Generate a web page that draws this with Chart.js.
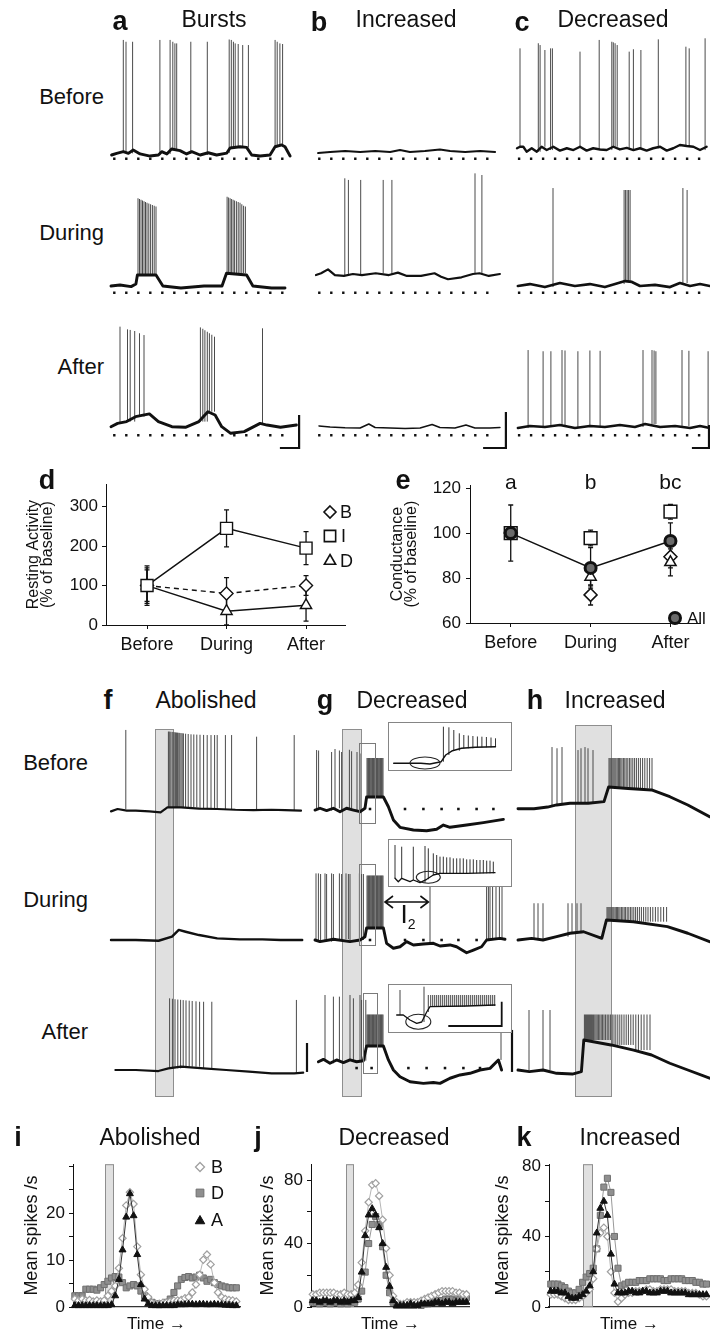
<!DOCTYPE html>
<html><head><meta charset="utf-8"><title>Figure</title>
<script src="https://cdn.jsdelivr.net/npm/chart.js@4/dist/chart.umd.min.js"></script>
<style>
html,body{margin:0;padding:0;background:#fff;}
body{position:relative;width:710px;height:1337px;overflow:hidden;font-family:"Liberation Sans",Arial,Helvetica,sans-serif;color:#111;}
canvas{position:absolute;}
.t{position:absolute;white-space:nowrap;line-height:1;color:#111;}
</style></head><body>
<script>
// ================= DATA =================
// --- panels a-c : membrane traces (t in s, v in mV) ---
const aBeforeBase = [[0.2,-60],[1.9,-58.9],[4.1,-57.8],[5.8,-58.9],[7.4,-56.7],[9.7,-59.3],[13,-60.7],[15.8,-60],[16.9,-57.8],[18.6,-59.3],[20.2,-56],[23,-57.1],[25.2,-59.3],[26.9,-57.8],[29.7,-60],[32.4,-58.5],[35.2,-60],[38.6,-58.7],[39.7,-55.3],[43,-54.5],[45.2,-54.9],[46.9,-60],[49.7,-60.7],[53,-60],[54.7,-54.5],[56.9,-53.3],[58,-54.5],[59.7,-60.7]];
const aBeforeSpikes = [[4.1,16.7],[5.0,15.5],[7.2,15.5],[16.3,16.7],[19.7,16.7],[20.6,15.5],[21.3,14.4],[21.9,14.4],[26.6,15.5],[32.1,15.5],[39.4,17],[40.1,16.7],[40.8,15.5],[41.4,14.4],[42.4,14],[43.9,13.3],[45.8,13.3],[54.7,16.7],[55.4,15.5],[56.3,14.4],[57.2,14]];
const aDuringBase = [[0,-60],[3,-59.3],[6.7,-60.4],[8.3,-58.7],[8.8,-52.7],[15,-52.7],[17.3,-60],[23.3,-61.3],[31,-60],[37,-60],[38.5,-51.5],[45.2,-52.7],[47.3,-60],[53.5,-61.3],[58,-61.3]];
const aDuringSpikes = [[9,-1.5],[9.5,-2],[10,-2.5],[10.5,-3],[11,-3.5],[11.5,-4],[12,-4.5],[12.6,-5],[13.2,-5.5],[13.8,-6],[14.4,-6.5],[15,-7],[38.7,-0.5],[39.2,-1],[39.7,-1.5],[40.2,-2],[40.7,-2.5],[41.2,-3],[41.8,-3.5],[42.4,-4],[43,-4.5],[43.6,-5.5],[44.2,-6.5],[44.8,-7]];
const aAfterBase = [[0,-59.8],[2.2,-57.6],[5.2,-56.4],[8.2,-53.1],[12.8,-51.3],[15.8,-56.4],[20.3,-59.8],[24.8,-60.2],[29.3,-56.4],[32.3,-49.8],[34.7,-52],[36.9,-59.8],[39.9,-64.2],[44.4,-63.1],[49.7,-57.6],[52,-58.7],[56.5,-60.2],[61.8,-58.7]];
const aAfterSpikes = [[3,6.9],[5.5,5.1],[6.4,4.7],[7.9,4],[9.5,2.5],[11,1.3],[29.8,6.4],[30.6,5.5],[31.3,4.5],[32.1,3.5],[32.8,2.5],[33.6,1.5],[34.5,0.2],[50.5,5.8]];
const bBeforeBase = [[0.7,-58.7],[4.7,-58],[9.7,-57.3],[14.7,-58],[19.7,-57.3],[24.7,-58],[28,-56.7],[31.3,-58],[36.3,-57.3],[41.3,-56.3],[44.7,-57.3],[49.7,-58],[54.7,-57.3],[59.7,-58]];
const bDuringBase = [[0,-52.7],[1.7,-51.5],[4,-48.9],[6.3,-52.7],[9.3,-53.3],[12.3,-52],[15.3,-52.7],[19.9,-51.5],[24.3,-52.7],[27.3,-51.1],[30.3,-53.3],[35,-53.3],[39.5,-51.5],[41.7,-53.8],[44,-55.5],[48.5,-54.2],[52.3,-52],[54.5,-51.5],[57.6,-53.3],[61.3,-52]];
const bDuringSpikes = [[9.6,11.8],[10.8,10.7],[14.9,10.7],[22.4,10.7],[25.3,10.7],[53,15.1],[55.3,14]];
const bAfterBase = [[1,-59.3],[4.7,-60],[9.7,-60.5],[14.7,-60.7],[17.6,-58],[19.7,-60.3],[24.7,-60.7],[29.7,-61],[34.7,-60.7],[38.7,-58.3],[41.3,-60.3],[46.3,-60.7],[50,-58.7],[53,-60.7],[58,-60.7],[61.3,-60.3]];
const cBeforeBase = [[0,-55.5],[1,-54.5],[2.1,-54.5],[3.2,-57.8],[4.9,-55.5],[6.6,-57.8],[8.2,-54.5],[9.9,-56.7],[12.1,-54.5],[14.3,-57.1],[16.6,-55.5],[18.8,-56.7],[21,-54.5],[23.2,-57.1],[25.4,-55.5],[27.7,-56.3],[29.9,-56.7],[32.1,-54.5],[34.3,-56.3],[36.6,-55.3],[38.8,-56.7],[41,-55.5],[43.2,-57.1],[45.4,-55.5],[47.7,-54.5],[49.9,-57.1],[52.1,-55.5],[54.3,-53.3],[56.6,-54],[58.8,-54.5],[61,-56.7],[63.2,-54.5]];
const cBeforeSpikes = [[1,11.1],[7.1,14.5],[7.7,13.3],[9.3,10],[11.2,11.1],[11.8,11.1],[21,8.9],[27.4,16.7],[31.6,15.5],[32.1,15.1],[32.7,14.5],[33.4,13.3],[37.4,8.9],[38.8,10.5],[41.3,10],[47.1,17.1],[56.3,12.2],[57.4,11.1],[62.7,17.8]];
const cDuringBase = [[0.3,-60],[4.3,-58.7],[9.3,-60.7],[14.3,-58],[19.3,-60],[24.3,-58.7],[29.3,-60.7],[32.7,-58.7],[36,-56.7],[38.3,-57.3],[41,-60],[46,-59.3],[51,-60.7],[54.3,-58],[57.7,-60],[61,-58.7],[64.3,-60]];
const cDuringSpikes = [[12,5.3],[35.7,4],[36.2,4],[36.7,4],[37.2,4],[37.7,4],[55.3,5.3],[56.7,4]];
const cAfterBase = [[0.3,-60.7],[4.3,-59.3],[9.3,-60],[14.3,-58.7],[19.3,-60.7],[24.3,-59.3],[29.3,-60],[34.3,-58.7],[39.3,-60],[42.7,-58],[47.7,-60],[52.7,-59.3],[57.7,-60.7],[61,-59.3],[64.3,-60.7]];
const cAfterSpikes = [[3.7,-8.7],[8.7,-9.5],[11.3,-9.5],[15,-8.7],[16,-9],[20.3,-9.5],[24.3,-9],[27.7,-9.2],[42,-8.7],[45,-8.7],[45.7,-9],[46.3,-9.5],[55,-8.7],[57.3,-9.2],[63.7,-9.5]];
// scale bars: [t of vertical, v bottom, v top, t start of horizontal]
const aScaleBar = [62.7,-74,-52,56.3];
const bScaleBar = [63.3,-74,-50,55.7];
const cScaleBar = [64,-74,-58.7,58.3];

// --- panels f-h : traces with stimulation (t in s, v in mV) ---
const fBeforeBase = [[0,-59.6],[3.3,-58],[7.9,-59.1],[12.4,-59.1],[19.2,-59.6],[24.8,-60.2],[28.2,-56.9],[35,-56.9],[44,-57.8],[53.1,-58],[62.2,-58.5],[71.2,-58.7],[80.3,-58.5],[87,-58.7],[95,-59.1]];
const fBeforeSpikes = [[7.4,-5.3],[28.7,-6.4],[29.1,-6.4],[29.6,-6.5],[30.5,-6.6],[31,-6.7],[31.6,-6.8],[32.2,-6.9],[32.8,-7],[33.3,-7.1],[33.9,-7.2],[34.4,-7.3],[35,-7.4],[35.6,-7.5],[36.2,-7.6],[37.3,-7.8],[38.6,-8],[40,-8.2],[41.4,-8.3],[42.9,-8.4],[44.5,-8.5],[46.3,-8.6],[48.1,-8.7],[50,-8.7],[51.8,-8.7],[53.1,-8.7],[57.2,-8.7],[60.3,-8.7],[72.8,-9.8],[91.6,-8.7]];
const fDuringBase = [[0,-60],[12.4,-60],[23.8,-60.5],[30.5,-57.8],[33.9,-53.3],[37.3,-54.5],[44,-56.7],[53.1,-58.9],[64.4,-59.6],[75.7,-59.6],[84.8,-60],[95.6,-60]];
const fAfterBase = [[2.2,-60],[12.4,-60],[23.7,-60.7],[28.7,-58.9],[35,-57.8],[46.3,-58.9],[57.6,-60],[69,-61.1],[80.3,-62.2],[91.6,-62.2],[96.1,-61.8]];
const fAfterSpikes = [[29.3,-12.2],[30.7,-12.5],[32,-12.8],[33.4,-13],[34.8,-13.2],[36.1,-13.4],[37.5,-13.6],[39.1,-13.8],[40.6,-14],[42.5,-14.2],[44.3,-14.5],[46.3,-14.5],[50.4,-14.5],[92.7,-13.3]];
const fScaleBar = [98,-61.3,-42,null];

const gBeforeBase = [[0,-58.7],[2.5,-57.5],[5.8,-59.1],[9.2,-57.5],[12.5,-59.8],[15.8,-57.5],[19.2,-58.7],[22.5,-59.8],[25,-57.5],[25.8,-50],[34.2,-50],[36.7,-56.5],[39.2,-65.3],[42.5,-70.2],[49.2,-72],[55.8,-72.5],[60.8,-71.5],[64.2,-68.7],[67.5,-70.2],[75.8,-68.7],[84.2,-67.1],[94.2,-64.9]];
const gBeforeSpikes = [[0.8,-18.7],[1.8,-19],[8.3,-20],[10,-18],[12.2,-19],[13.3,-20],[17.2,-18.5],[18.3,-19.5],[21,-20],[22.5,-21]];
const gBurstTimes = [26,26.4,26.8,27.2,27.6,28,28.4,28.8,29.2,29.6,30,30.4,30.8,31.2,31.6,32,32.4,32.8,33.2,33.6,34];
const gBeforeBurstTop = -24;
const gBeforeDots = [27.5,45,54.2,63.3,71.7,80.8,89.2];
const gDuringBase = [[0,-60],[2.5,-61.1],[9.2,-59.5],[17.5,-61.1],[22.5,-60],[25,-57.8],[25.8,-52],[34.2,-52],[35.8,-62.2],[39.2,-65.5],[42.5,-64.5],[45.8,-61.1],[49.2,-63.3],[54.2,-62.7],[59.2,-62.2],[62.5,-64],[67.5,-63.3],[70.8,-64.5],[75.8,-68.5],[79.2,-66.7],[83.3,-64.5],[85.8,-60],[92.5,-58.9],[95,-59.5]];
const gDuringSpikes = [[0.5,-15.6],[1.7,-15.6],[2.8,-16],[5,-15.6],[5.8,-16],[8.3,-15.6],[9.2,-16],[12.2,-15.6],[13.3,-16],[15.5,-15.6],[16.7,-16],[17.5,-16],[22.2,-15.6],[23.3,-16],[24.2,-16],[57.5,-24.4],[85.8,-24.4],[86.7,-24.4],[87.5,-24.4],[88.8,-24.4],[90.5,-24.4],[92.2,-24.4],[93.5,-24.4]];
const gDuringBurstTop = -17;
const gDuringDots = [27.5,45,54.2,63.3,71.7,80.8];
const gAfterBase = [[1.7,-54.5],[4.2,-52.9],[7.5,-55.5],[10.8,-53.3],[14.2,-55.1],[17.5,-53.3],[20.8,-54.5],[24.2,-53.8],[25.8,-44],[34.2,-44],[36.7,-53.3],[39.2,-60],[42.5,-64.5],[47.5,-67.8],[54.2,-68.9],[59.2,-68.3],[62.5,-68.9],[67.5,-65.5],[72.5,-63.3],[77.5,-62.2],[82.5,-60],[87.5,-58.9],[91.7,-53.3],[93.3,-60]];
const gAfterSpikes = [[5,-10],[9.2,-11.1],[12.2,-11.1],[17.5,-10],[19.2,-12.2],[22.5,-10],[23.3,-13.3],[25.4,-13.3],[93,-33.3]];
const gAfterBurstTop = -23;
const gAfterDots = [20.8,28.3,46.7,55.8,65,74.2,82.5];
const gScaleBar = [98.5,-61.3,-33.3,null];

const hBeforeBase = [[0,-57.8],[8,-57.8],[14.8,-56.7],[19.3,-55.3],[26,-54.2],[35.1,-54.2],[43,-53.1],[45.3,-43.3],[55,-44.3],[66.8,-45.3],[75.9,-49.8],[84.9,-55.3],[95.8,-63.1]];
const hBeforeSpikes = [[17,-16.7],[19.5,-17.5],[22,-16.7],[30,-18.7],[31.5,-17.5],[33.5,-16.7],[35,-17.5],[37.5,-18.7]];
const hBeforeBurstTimes = [45.5,46,46.5,47,47.5,48,48.5,49,49.6,50.2,50.8,51.4,52,52.7,53.4,54.1,54.9,55.7,56.5,57.4,58.3,59.2,60.2,61.2,62.3,63.4,64.6,65.8,67];
const hBeforeBurstTop = -24;
const hDuringBase = [[0,-60],[6.8,-58.9],[12.5,-60],[19.3,-57.8],[26,-55.5],[32.8,-54.5],[41.9,-58.9],[44.2,-46.7],[57.7,-47.8],[74.7,-51.1],[84.9,-55.5],[95.8,-61.1]];
const hDuringSpikes = [[8,-35.5],[10,-35.5],[12.5,-35.5],[25,-35.5],[27,-35.5],[29.5,-35.5],[31.5,-35.5]];
const hDuringBurstTimes = [44.5,45,45.5,46,46.5,47,47.5,48,48.6,49.2,49.8,50.4,51,51.7,52.4,53.1,53.8,54.6,55.4,56.2,57,57.9,58.8,59.7,60.7,61.7,62.8,63.9,65,66.2,67.4,68.7,70,71.4,72.8,74.3];
const hDuringBurstTop = -38;
const hAfterBase = [[0,-60],[5.7,-61.1],[12.5,-60],[19.3,-62.2],[27.2,-62.7],[31.7,-61.1],[32.9,-40],[46.5,-43.3],[57.8,-46.7],[66.8,-50],[75.9,-55.5],[84.9,-60],[95.8,-65.5]];
const hAfterSpikes = [[5.5,-20],[12.5,-20],[16,-20]];
const hAfterBurstTimes = [33.2,33.7,34.2,34.7,35.2,35.7,36.2,36.7,37.2,37.8,38.4,39,39.6,40.2,40.9,41.6,42.3,43,43.8,44.6,45.4,46.2,47.1,48,48.9,49.9,50.9,51.9,53,54.1,55.2,56.4,57.6,58.9,60.2,61.6,63,64.5,66];
const hAfterBurstTop = -23;
// stimulation windows (s)
const fStim = [22,31.5], gStim = [13.5,23.5], hStim = [28.5,47];

// --- g insets (t in ms, v in mV) ---
const insBeforeBase = [[4.7,-60.6],[31.8,-60.6],[40.9,-62],[52.2,-57.4],[56.7,-44],[63.5,-35.4],[72.5,-30.6],[86.1,-28.6],[106.5,-27.4]];
const insBeforeSpikes = [[54.4,12.6],[59.9,11.4],[64.8,6],[70.3,-0.6],[74.8,-4],[79.3,-5],[83.9,-6],[88.4,-7],[92.9,-7.4],[97.4,-8],[102,-9],[106.5,-10.6]];
const insDuringBase = [[6,-56.6],[9.3,-63.4],[12.7,-56.6],[21,-63.4],[24.3,-60],[31,-65.4],[37.7,-58.6],[44.3,-50],[51,-46.6],[77.7,-46.6],[106,-45.4]];
const insDuringSpikes = [[6,10],[12.7,6.6],[24.3,6.6],[36,8],[39.3,3.3],[44.3,-6.7],[47.7,-10],[51,-13.3],[54.3,-13.3],[57.7,-14.7],[61,-14.7],[64.3,-16.7],[67.7,-16.7],[71,-16.7],[74.3,-16.7],[77.7,-18.7],[81,-18.7],[84.3,-18.7],[87.7,-20],[91,-20],[94.3,-20],[97.7,-21.3],[101,-21.3],[104.3,-23.3]];
const insAfterBase = [[7.7,-60],[14.3,-60],[21,-70],[27.7,-76.6],[32.7,-74],[37.7,-54],[41,-43.4],[77.7,-42],[106,-40]];
const insAfterSpikes = [[11,-10],[35,-3.4]];
const insAfterTrainTimes = [39.3,41.7,43.7,45.7,47.7,49.7,51.7,53.7,55.7,57.7,59.7,61.7,63.7,65.7,67.7,69.7,71.7,73.7,75.7,77.7,79.7,81.7,83.7,85.7,87.7,89.7,91.7,93.7,95.7,97.7,99.7,101.7,103.7,105.7];
const insAfterTrainTop = -20;
const insAfterScaleBar = [112.7,-82,-33.4,59.3];

// --- panel d ---
const dCats = ['Before','During','After'];
const dB = [100,80,100], dBerr = [45,40,25];
const dI = [100,245,195], dIerr = [40,47,42];
const dD = [100,35,50], dDerr = [50,35,40];
// --- panel e ---
const eAll = [100,84.5,96.5], eAllErr = [12.5,9,8];
const eI = [100,97.8,109.5], eIerr = [0,3.5,3.3];
const eB = [100,72.5,89.5], eBerr = [0,4.5,5];
const eD = [100,80.5,87], eDerr = [0,4,6];
const eLetters = ['a','b','bc'];
// --- panels i-k : mean spikes /s per time bin ---
const iB = [1.7,1.4,1.7,1.4,1.5,1.2,1.4,1.2,1.4,2.4,3.4,4.5,8.3,14.7,21.7,24.5,22,12.9,6.9,3.8,2.1,0.9,0.7,0.7,0.9,1,1.2,1.4,1.4,1.5,1.9,2.1,3.1,4.8,6.9,10.1,11.2,9.1,5.2,3.1,2.1,1.7,1.5,1.4,1.2];
const iD = [2.4,2.4,2.4,3.8,3.8,3.8,3.6,4.1,4.8,5.5,6.2,6.5,6.4,5.2,4.1,4.5,4.8,4.5,3.4,2.4,1.7,1,0.7,0.5,0.7,1,1.7,3.1,4.5,5.9,6.3,6.5,6.2,6.4,6.8,6.2,5.5,5.9,5.2,4.8,4.5,4.3,4.1,4.1,4.1];
const iA = [0.3,0.3,0.3,0.3,0.3,0.3,0.3,0.3,0.3,0.3,0.5,2.4,5.9,12.2,19.2,24.2,19.5,11.2,4.8,1.7,0.7,0.3,0.3,0.3,0.3,0.3,0.3,0.3,0.5,0.5,0.5,0.6,0.6,0.5,0.6,0.6,0.5,0.5,0.6,0.5,0.5,0.4,0.4,0.3,0.3];
const jB = [8,8,9,9,9,9,9,8,8,9,8,8,9,14,28,48,66,77,78,70,55,37,20,7,3,2,2,3,3,3,3,4,5,6,7,8,9,10,10,10,10,9,9,8,8];
const jA = [4,4,3,4,4,3,4,4,3,4,3,4,4,6,22,45,58,62,58,50,40,25,13,4,1,1,1,1,2,1,1,2,2,2,2,3,3,2,3,3,2,3,3,3,3];
const jD = [3,3,2,3,3,2,3,3,2,3,2,3,3,5,10,22,40,52,57,52,38,20,9,3,1,1,1,1,1,1,2,1,2,2,3,3,4,4,5,5,5,4,5,5,6];
const kD = [13,13,13,12,11,9,8,8,10,14,17,19,22,33,52,68,73,65,40,22,12,13,14,14,14,15,15,15,16,16,16,16,15,15,16,16,16,16,15,15,15,14,14,13,13];
const kA = [9,9,9,8,8,6,5,5,6,7,9,12,20,42,56,60,52,30,13,8,8,8,9,9,8,8,9,9,8,8,8,9,9,9,8,8,8,8,8,7,7,7,7,7,7];
const kB = [7,7,7,6,5,4,4,4,5,6,8,10,16,33,42,45,40,20,8,3,5,7,8,8,9,9,9,10,10,9,9,10,10,10,10,9,9,9,9,8,8,8,7,6,6];
const iStim = [8.2,10.6], jStim = [9.4,11.9], kStim = [9.2,11.9];

// ================= DRAWING =================
const FONT = '"Liberation Sans", Arial, Helvetica, sans-serif';
Chart.defaults.font.family = FONT;
Chart.defaults.color = '#111';

function mkCanvas(l, t, w, h, bg) {
  const c = document.createElement('canvas');
  c.width = w; c.height = h;
  c.style.left = l + 'px'; c.style.top = t + 'px';
  c.style.width = w + 'px'; c.style.height = h + 'px';
  if (bg) c.style.background = bg;
  document.body.appendChild(c);
  return c;
}
function label(html, x, y, size, opt) {
  opt = opt || {};
  const d = document.createElement('div');
  d.className = 't';
  d.innerHTML = html;
  d.style.left = x + 'px'; d.style.top = y + 'px';
  d.style.fontSize = size + 'px';
  if (opt.bold) d.style.fontWeight = 'bold';
  const ax = opt.align === 'right' ? '-100%' : (opt.align === 'left' ? '0' : '-50%');
  d.style.transform = 'translate(' + ax + ',-50%)';
  document.body.appendChild(d);
}
function baseAt(base, t) {
  let v = base[0][1];
  for (const p of base) { if (p[0] <= t) v = p[1]; else break; }
  return v;
}
function burst(times, top) { return times.map(t => [t, top]); }
function lineSet(data, color, w) {
  return {data: data, borderColor: color, borderWidth: w, pointRadius: 0, tension: 0, fill: false};
}
const baseOpts = () => ({
  animation: false, responsive: false, devicePixelRatio: 1, events: [],
  layout: {padding: 0, autoPadding: false},
  plugins: {legend: {display: false}, tooltip: {enabled: false}}
});

function traceChart(o) {
  const k = o.k || 1.5;
  const cv = mkCanvas(o.left, o.top, o.width, o.height, o.bg);
  const yMax = 0, yMin = -o.height / k;
  const tMin = (o.left - o.x0) / o.pxPerT, tMax = (o.left + o.width - o.x0) / o.pxPerT;
  const offs = o.rows.map(r => yMax + 60 - (r.yb - o.top) / k);
  const topSets = [], midSets = [], lowSets = [];
  o.rows.forEach((r, i) => {
    const off = offs[i];
    topSets.push(Object.assign(lineSet(r.base.map(p => ({x: p[0], y: p[1] + off})), '#111', r.bw || 2.4), {borderJoinStyle: 'round', borderCapStyle: 'round'}));
    if (r.spikes && r.spikes.length) {
      const d = [];
      r.spikes.slice().sort((a, b) => a[0] - b[0]).forEach(s => {
        const b = baseAt(r.base, s[0]);
        d.push({x: s[0], y: b + off}, {x: s[0], y: s[1] + off}, {x: s[0], y: null});
      });
      lowSets.push(Object.assign(lineSet(d, r.sc || '#4a4a4a', r.sw || 1), {spanGaps: false}));
    }
    if (r.dotLine) midSets.push(Object.assign(lineSet([{x: r.dotLine[0], y: r.dotLine[2] + off}, {x: r.dotLine[1], y: r.dotLine[2] + off}], '#111', 2.4), {borderDash: [2.4, 9.6], borderCapStyle: 'butt'}));
    if (r.dots) midSets.push({data: r.dots.map(t => ({x: t, y: r.dotV + off})), showLine: false, pointStyle: 'rect', pointRadius: 1.8, pointBackgroundColor: '#111', pointBorderColor: '#111', pointBorderWidth: 0});
    if (r.bar) {
      const b = r.bar, pts = [];
      if (b[3] !== null && b[3] !== undefined) pts.push({x: b[3], y: b[1] + off});
      pts.push({x: b[0], y: b[1] + off}, {x: b[0], y: b[2] + off});
      midSets.push(Object.assign(lineSet(pts, '#111', o.barW || 2.2), {borderCapStyle: 'butt', borderJoinStyle: 'miter'}));
    }
  });
  const ext = {
    id: 'ext',
    beforeDatasetsDraw(ch) {
      const ctx = ch.ctx, x = ch.scales.x;
      if (o.stim) {
        const xa = Math.round(x.getPixelForValue(o.stim[0])), xb = Math.round(x.getPixelForValue(o.stim[1]));
        const ya = o.stimTop - o.top, yb = o.stimBottom - o.top;
        ctx.save();
        ctx.fillStyle = '#e0e0e0'; ctx.fillRect(xa, ya, xb - xa, yb - ya);
        ctx.strokeStyle = '#8e8e8e'; ctx.lineWidth = 1; ctx.strokeRect(xa + 0.5, ya + 0.5, xb - xa - 1, yb - ya - 1);
        ctx.restore();
      }
    },
    afterDatasetsDraw(ch) {
      const ctx = ch.ctx, x = ch.scales.x, y = ch.scales.y;
      ctx.save();
      (o.boxes || []).forEach(b => {
        const xa = Math.round(x.getPixelForValue(b[0])), xb = Math.round(x.getPixelForValue(b[1]));
        ctx.strokeStyle = '#7a7a7a'; ctx.lineWidth = 1;
        ctx.strokeRect(xa + 0.5, b[2] - o.top + 0.5, xb - xa, b[3] - b[2]);
      });
      (o.arrows || []).forEach(a => {
        const xa = x.getPixelForValue(a[0]), xb = x.getPixelForValue(a[1]), yy = a[2] - o.top;
        ctx.beginPath();
        ctx.moveTo(xa, yy); ctx.lineTo(xb, yy);
        ctx.moveTo(xa + 8, yy - 6); ctx.lineTo(xa, yy); ctx.lineTo(xa + 8, yy + 6);
        ctx.moveTo(xb - 8, yy - 6); ctx.lineTo(xb, yy); ctx.lineTo(xb - 8, yy + 6);
        ctx.strokeStyle = '#111'; ctx.lineWidth = 1.6; ctx.stroke();
      });
      (o.ellipses || []).forEach(e => {
        const off = offs[e[0]];
        const cx = x.getPixelForValue(e[1]), cy = y.getPixelForValue(e[2] + off);
        const rx = Math.abs(x.getPixelForValue(e[1] + e[3]) - cx), ry = Math.abs(y.getPixelForValue(e[2] + off + e[4]) - cy);
        ctx.beginPath(); ctx.ellipse(cx, cy, rx, ry, 0, 0, Math.PI * 2);
        ctx.strokeStyle = '#222'; ctx.lineWidth = 1.1; ctx.stroke();
      });
      ctx.restore();
    }
  };
  const opts = baseOpts();
  opts.scales = {
    x: {type: 'linear', display: false, min: tMin, max: tMax},
    y: {type: 'linear', display: false, min: yMin, max: yMax}
  };
  new Chart(cv, {type: 'line', data: {datasets: topSets.concat(midSets, lowSets)}, options: opts, plugins: [ext]});
}

// ---- a / b / c columns ----
const ABC_TOP = 30, ABC_H = 430, ROWS_ABC = [155, 286, 427];
traceChart({left: 106, top: ABC_TOP, width: 200, height: ABC_H, x0: 111, pxPerT: 3, rows: [
  {yb: ROWS_ABC[0], base: aBeforeBase, spikes: aBeforeSpikes, dotLine: [0.7, 59.7, -62.5], bw: 2.9},
  {yb: ROWS_ABC[1], base: aDuringBase, spikes: aDuringSpikes, dotLine: [0.7, 59.7, -64.5], bw: 2.9},
  {yb: ROWS_ABC[2], base: aAfterBase, spikes: aAfterSpikes, dotLine: [0.7, 59.7, -65.5], bw: 2.9, bar: aScaleBar}
]});
traceChart({left: 311, top: ABC_TOP, width: 200, height: ABC_H, x0: 316, pxPerT: 3, rows: [
  {yb: ROWS_ABC[0], base: bBeforeBase, dotLine: [0.7, 60.3, -62.5], bw: 1.9},
  {yb: ROWS_ABC[1], base: bDuringBase, spikes: bDuringSpikes, dotLine: [0.7, 60.3, -64.5], bw: 2.2},
  {yb: ROWS_ABC[2], base: bAfterBase, dotLine: [0.7, 60.3, -65.5], bw: 1.6, bar: bScaleBar}
]});
traceChart({left: 512, top: ABC_TOP, width: 198, height: ABC_H, x0: 517, pxPerT: 3, rows: [
  {yb: ROWS_ABC[0], base: cBeforeBase, spikes: cBeforeSpikes, dotLine: [0.3, 63.3, -62.5], bw: 2.4},
  {yb: ROWS_ABC[1], base: cDuringBase, spikes: cDuringSpikes, dotLine: [0.3, 63.3, -64.5], bw: 2.7},
  {yb: ROWS_ABC[2], base: cAfterBase, spikes: cAfterSpikes, dotLine: [0.3, 63.3, -65.5], bw: 2.5, bar: cScaleBar}
]});

// ---- f / g / h columns ----
const FGH_TOP = 715, FGH_H = 390, ROWS_FGH = [812, 940, 1070];
traceChart({left: 106, top: FGH_TOP, width: 206, height: FGH_H, x0: 111, pxPerT: 2,
  stim: fStim, stimTop: 729, stimBottom: 1097, rows: [
  {yb: ROWS_FGH[0], base: fBeforeBase, spikes: fBeforeSpikes, bw: 2.2},
  {yb: ROWS_FGH[1], base: fDuringBase, bw: 2.4},
  {yb: ROWS_FGH[2], base: fAfterBase, spikes: fAfterSpikes, bw: 2.2, bar: fScaleBar}
]});
traceChart({left: 310, top: FGH_TOP, width: 205, height: FGH_H, x0: 315, pxPerT: 2,
  stim: gStim, stimTop: 729, stimBottom: 1097,
  boxes: [[22.2, 30, 743, 823], [22.2, 30, 864, 945], [24.2, 31.2, 993, 1073]],
  arrows: [[35, 56.7, 902]], rows: [
  {yb: ROWS_FGH[0], base: gBeforeBase, spikes: gBeforeSpikes.concat(burst(gBurstTimes, gBeforeBurstTop)), dots: gBeforeDots, dotV: -58, bw: 2.9},
  {yb: ROWS_FGH[1], base: gDuringBase, spikes: gDuringSpikes.concat(burst(gBurstTimes, gDuringBurstTop)), dots: gDuringDots, dotV: -60, bw: 2.9},
  {yb: ROWS_FGH[2], base: gAfterBase, spikes: gAfterSpikes.concat(burst(gBurstTimes, gAfterBurstTop)), dots: gAfterDots, dotV: -58.7, bw: 2.9, bar: gScaleBar}
]});
traceChart({left: 513, top: FGH_TOP, width: 197, height: FGH_H, x0: 518, pxPerT: 2,
  stim: hStim, stimTop: 725, stimBottom: 1097, rows: [
  {yb: ROWS_FGH[0], base: hBeforeBase, spikes: hBeforeSpikes.concat(burst(hBeforeBurstTimes, hBeforeBurstTop)), bw: 2.9},
  {yb: ROWS_FGH[1], base: hDuringBase, spikes: hDuringSpikes.concat(burst(hDuringBurstTimes, hDuringBurstTop)), bw: 2.9},
  {yb: ROWS_FGH[2], base: hAfterBase, spikes: hAfterSpikes.concat(burst(hAfterBurstTimes, hAfterBurstTop)), bw: 2.9}
]});

// ---- g insets ----
function insetBox(l, t, w, h) {
  const d = document.createElement('div');
  d.style.cssText = 'position:absolute;left:' + l + 'px;top:' + t + 'px;width:' + w + 'px;height:' + h + 'px;border:1px solid #858585;background:#fff;';
  document.body.appendChild(d);
}
insetBox(388, 722, 122, 47);
traceChart({left: 389, top: 723, width: 122, height: 47, x0: 389, pxPerT: 1, k: 0.5,
  ellipses: [[0, 36, -60, 15, 12]], rows: [{yb: 763, base: insBeforeBase, spikes: insBeforeSpikes, bw: 1.4, sc: '#333'}]});
insetBox(388, 839, 122, 46);
traceChart({left: 389, top: 840, width: 122, height: 46, x0: 389, pxPerT: 1, k: 0.5,
  ellipses: [[0, 39.3, -54.6, 12, 12]], rows: [{yb: 880, base: insDuringBase, spikes: insDuringSpikes, bw: 1.3, sc: '#333'}]});
insetBox(388, 984, 122, 47);
traceChart({left: 389, top: 985, width: 122, height: 47, x0: 389, pxPerT: 1, k: 0.5, barW: 1.8,
  ellipses: [[0, 29.3, -73.4, 12.5, 15]], rows: [{yb: 1015, base: insAfterBase, spikes: insAfterSpikes.concat(burst(insAfterTrainTimes, insAfterTrainTop)), bw: 1.3, sc: '#444', bar: insAfterScaleBar}]});

// ---- marker helper ----
function marker(ctx, style, x, y, r, fill, stroke, lw) {
  ctx.save(); ctx.beginPath();
  if (style === 'rect') { const s = r * Math.SQRT1_2; ctx.rect(x - s, y - s, 2 * s, 2 * s); }
  else if (style === 'rectRot') { ctx.moveTo(x, y - r); ctx.lineTo(x + r, y); ctx.lineTo(x, y + r); ctx.lineTo(x - r, y); ctx.closePath(); }
  else if (style === 'triangle') { ctx.moveTo(x, y - r); ctx.lineTo(x + r * 0.866, y + r * 0.5); ctx.lineTo(x - r * 0.866, y + r * 0.5); ctx.closePath(); }
  else { ctx.arc(x, y, r, 0, Math.PI * 2); }
  ctx.fillStyle = fill; ctx.fill();
  if (lw) { ctx.lineWidth = lw; ctx.strokeStyle = stroke; ctx.stroke(); }
  ctx.restore();
}
function errPlugin(sets) {
  return {id: 'err', beforeDatasetsDraw(ch) {
    const ctx = ch.ctx, x = ch.scales.x, y = ch.scales.y;
    ctx.save(); ctx.strokeStyle = '#111'; ctx.lineWidth = 1.3;
    sets.forEach(s => s[0].forEach((v, i) => {
      const e = s[1][i]; if (!e) return;
      const px = x.getPixelForValue(i + 1), y1 = y.getPixelForValue(v + e), y2 = y.getPixelForValue(Math.max(v - e, y.min));
      ctx.beginPath(); ctx.moveTo(px, y1); ctx.lineTo(px, y2);
      ctx.moveTo(px - 2.5, y1); ctx.lineTo(px + 2.5, y1); ctx.moveTo(px - 2.5, y2); ctx.lineTo(px + 2.5, y2);
      ctx.stroke();
    }));
    ctx.restore();
  }};
}
const axisCommon = {grid: {drawOnChartArea: false, tickLength: 4, color: '#111'}, border: {color: '#111', width: 1}};

// ---- panel d ----
(function () {
  const cv = mkCanvas(0, 470, 360, 195);
  const pts = arr => arr.map((v, i) => ({x: i + 1, y: v}));
  const opts = baseOpts();
  opts.layout = {padding: {top: 12, right: 15, left: 0, bottom: 0}, autoPadding: false};
  opts.scales = {
    x: Object.assign({type: 'linear', min: 0.484, max: 3.49,
      afterFit: s => { s.height = 40; },
      afterBuildTicks: s => { s.ticks = dCats.map((c, i) => ({value: i + 1})); },
      ticks: {callback: v => dCats[v - 1], font: {size: 18}, color: '#111', padding: 5, maxRotation: 0, autoSkip: false}}, axisCommon),
    y: Object.assign({type: 'linear', min: 0, max: 357,
      afterFit: s => { s.width = 106; },
      ticks: {stepSize: 50, includeBounds: false, callback: v => (v % 100 === 0 ? String(v) : ''), font: {size: 17}, color: '#111', padding: 4},
      title: {display: true, text: ['Resting Activity', '(% of baseline)'], font: {size: 16, lineHeight: 0.9}, color: '#111', padding: {top: 26, bottom: 0}}}, axisCommon)
  };
  const ds = [
    {data: pts(dI), borderColor: '#111', borderWidth: 1.4, pointStyle: 'rect', pointRadius: 8.5, pointBackgroundColor: '#fff', pointBorderColor: '#111', pointBorderWidth: 1.4, tension: 0},
    {data: pts(dB), borderColor: '#111', borderWidth: 1.4, borderDash: [5, 4], pointStyle: 'rectRot', pointRadius: 6.5, pointBackgroundColor: '#fff', pointBorderColor: '#111', pointBorderWidth: 1.4, tension: 0},
    {data: pts(dD), borderColor: '#111', borderWidth: 1.4, pointStyle: 'triangle', pointRadius: 6.5, pointBackgroundColor: '#fff', pointBorderColor: '#111', pointBorderWidth: 1.4, tension: 0}
  ];
  const leg = {id: 'leg', afterDraw(ch) {
    const ctx = ch.ctx;
    marker(ctx, 'rectRot', 330, 42, 6, '#fff', '#111', 1.6);
    marker(ctx, 'rect', 330, 66, 8, '#fff', '#111', 1.6);
    marker(ctx, 'triangle', 330, 91, 6.5, '#fff', '#111', 1.6);
    ctx.save(); ctx.fillStyle = '#111'; ctx.font = '18px ' + FONT; ctx.textBaseline = 'middle';
    ctx.fillText('B', 340, 43); ctx.fillText('I', 341, 67); ctx.fillText('D', 340, 92);
    ctx.restore();
  }};
  new Chart(cv, {type: 'line', data: {datasets: ds}, options: opts, plugins: [errPlugin([[dI, dIerr], [dB, dBerr], [dD, dDerr]]), leg]});
})();

// ---- panel e ----
(function () {
  const cv = mkCanvas(360, 470, 350, 195);
  const pts = arr => arr.map((v, i) => ({x: i + 1, y: v}));
  const opts = baseOpts();
  opts.layout = {padding: {top: 12, right: 10, left: 0, bottom: 0}, autoPadding: false};
  opts.scales = {
    x: Object.assign({type: 'linear', min: 0.49, max: 3.37,
      afterFit: s => { s.height = 42; },
      afterBuildTicks: s => { s.ticks = dCats.map((c, i) => ({value: i + 1})); },
      ticks: {callback: v => dCats[v - 1], font: {size: 18}, color: '#111', padding: 5, maxRotation: 0, autoSkip: false}}, axisCommon),
    y: Object.assign({type: 'linear', min: 60, max: 121.3,
      afterFit: s => { s.width = 110; },
      ticks: {stepSize: 10, includeBounds: false, callback: v => (v % 20 === 0 ? String(v) : ''), font: {size: 17}, color: '#111', padding: 5},
      title: {display: true, text: ['Conductance', '(% of baseline)'], font: {size: 16, lineHeight: 0.9}, color: '#111', padding: {top: 30, bottom: 0}}}, axisCommon)
  };
  const ds = [
    {data: pts(eAll), borderColor: '#111', borderWidth: 1.5, pointStyle: 'circle', pointRadius: 5.5, pointBackgroundColor: '#6a6a6a', pointBorderColor: '#111', pointBorderWidth: 3, tension: 0},
    {data: pts(eI), showLine: false, pointStyle: 'rect', pointRadius: 9, pointBackgroundColor: '#fff', pointBorderColor: '#111', pointBorderWidth: 1.5},
    {data: pts(eD), showLine: false, pointStyle: 'triangle', pointRadius: 6.5, pointBackgroundColor: '#fff', pointBorderColor: '#111', pointBorderWidth: 1.5},
    {data: pts(eB), showLine: false, pointStyle: 'rectRot', pointRadius: 6.5, pointBackgroundColor: '#fff', pointBorderColor: '#111', pointBorderWidth: 1.5}
  ];
  const ann = {id: 'ann', afterDraw(ch) {
    const ctx = ch.ctx, x = ch.scales.x;
    ctx.save(); ctx.fillStyle = '#111'; ctx.font = '21px ' + FONT; ctx.textAlign = 'center'; ctx.textBaseline = 'middle';
    eLetters.forEach((s, i) => ctx.fillText(s, x.getPixelForValue(i + 1), 13));
    ctx.restore();
    marker(ctx, 'circle', 315, 148, 5.5, '#6a6a6a', '#111', 3);
    ctx.save(); ctx.fillStyle = '#111'; ctx.font = '17px ' + FONT; ctx.textBaseline = 'middle';
    ctx.fillText('All', 327, 149); ctx.restore();
  }};
  new Chart(cv, {type: 'line', data: {datasets: ds}, options: opts, plugins: [errPlugin([[eAll, eAllErr], [eI, eIerr], [eB, eBerr], [eD, eDerr]]), ann]});
})();

// ---- panels i / j / k ----
function rateChart(o) {
  const cv = mkCanvas(o.left, 1150, o.width, 187);
  const pts = arr => arr.map((v, i) => ({x: i, y: v}));
  const opts = baseOpts();
  opts.layout = {padding: {top: 13, right: o.padRight, left: 0, bottom: 0}, autoPadding: false};
  opts.scales = {
    x: {type: 'linear', min: -0.5, max: 45, afterFit: s => { s.height = 30; },
      ticks: {display: false}, grid: {display: false}, border: {color: '#333', width: 1.2, dash: [2, 2]},
      title: {display: true, text: 'Time \u2192', font: {size: 17}, color: '#111', padding: {top: 0, bottom: 2}}},
    y: Object.assign({type: 'linear', min: 0, max: o.yMax, afterFit: s => { s.width = o.axisX - o.left; },
      ticks: {stepSize: o.minor, includeBounds: false, callback: v => ((v % o.major === 0 && v <= o.maxLabel) ? String(v) : ''), font: {size: 17}, color: '#111', padding: 4},
      title: {display: true, text: 'Mean spikes /s', font: {size: 18, lineHeight: 1}, color: '#111', padding: {top: o.titlePad, bottom: 0}}}, axisCommon)
  };
  const ds = [
    {data: pts(o.A), borderColor: '#333', borderWidth: 1, pointStyle: 'triangle', pointRadius: 4, pointBackgroundColor: '#111', pointBorderColor: '#111', pointBorderWidth: 1, tension: 0, clip: false},
    {data: pts(o.B), borderColor: '#b5b5b5', borderWidth: 1, pointStyle: 'rectRot', pointRadius: 3.6, pointBackgroundColor: '#fff', pointBorderColor: '#a0a0a0', pointBorderWidth: 1.2, tension: 0, clip: false},
    {data: pts(o.D), borderColor: '#999', borderWidth: 1, pointStyle: 'rect', pointRadius: 4.3, pointBackgroundColor: '#8f8f8f', pointBorderColor: '#6f6f6f', pointBorderWidth: 1, tension: 0, clip: false}
  ];
  const ext = {id: 'ext', beforeDatasetsDraw(ch) {
    const ctx = ch.ctx, x = ch.scales.x, a = ch.chartArea;
    const xa = Math.round(x.getPixelForValue(o.stim[0])), xb = Math.round(x.getPixelForValue(o.stim[1]));
    ctx.save(); ctx.fillStyle = '#e0e0e0'; ctx.fillRect(xa, a.top, xb - xa, a.bottom - a.top);
    ctx.strokeStyle = '#8e8e8e'; ctx.lineWidth = 1; ctx.strokeRect(xa + 0.5, a.top + 0.5, xb - xa - 1, a.bottom - a.top - 1);
    ctx.restore();
  }, afterDraw(ch) {
    if (!o.legend) return;
    const ctx = ch.ctx;
    marker(ctx, 'rectRot', 200, 17, 4.5, '#fff', '#a0a0a0', 1.3);
    marker(ctx, 'rect', 200, 43, 5.5, '#8f8f8f', '#6f6f6f', 1);
    marker(ctx, 'triangle', 200, 71, 5.5, '#111', '#111', 1);
    ctx.save(); ctx.fillStyle = '#111'; ctx.font = '18px ' + FONT; ctx.textBaseline = 'middle';
    ctx.fillText('B', 211, 18); ctx.fillText('D', 211, 44); ctx.fillText('A', 211, 71);
    ctx.restore();
  }};
  new Chart(cv, {type: 'line', data: {datasets: ds}, options: opts, plugins: [ext]});
}
rateChart({left: 0, width: 245, padRight: 5, axisX: 73, yMax: 30.5, major: 10, minor: 5, maxLabel: 20, titlePad: 23, A: iA, B: iB, D: iD, stim: iStim, legend: true});
rateChart({left: 245, width: 225, padRight: 0, axisX: 311, yMax: 90, major: 40, minor: 20, maxLabel: 80, titlePad: 14, A: jA, B: jB, D: jD, stim: jStim});
rateChart({left: 470, width: 240, padRight: 0, axisX: 549, yMax: 81, major: 40, minor: 20, maxLabel: 80, titlePad: 24, A: kA, B: kB, D: kD, stim: kStim});

// ---- text labels ----
label('a', 120, 21, 27, {bold: true}); label('Bursts', 214, 19, 23);
label('b', 319, 22, 27, {bold: true}); label('Increased', 406, 19, 23);
label('c', 522, 22, 27, {bold: true}); label('Decreased', 613, 19, 23);
label('Before', 104, 97, 22, {align: 'right'});
label('During', 104, 233, 22, {align: 'right'});
label('After', 104, 367, 22, {align: 'right'});
label('d', 47, 480, 27, {bold: true});
label('e', 403, 480, 27, {bold: true});
label('f', 108, 700, 27, {bold: true}); label('Abolished', 206, 700, 23);
label('g', 325, 700, 27, {bold: true}); label('Decreased', 412, 700, 23);
label('h', 535, 700, 27, {bold: true}); label('Increased', 615, 700, 23);
label('Before', 88, 763, 22, {align: 'right'});
label('During', 88, 900, 22, {align: 'right'});
label('After', 88, 1032, 22, {align: 'right'});
label('I<sub style="font-size:14px">2</sub>', 408, 916, 26);
label('i', 18, 1137, 27, {bold: true}); label('Abolished', 150, 1137, 23);
label('j', 258, 1137, 27, {bold: true}); label('Decreased', 394, 1137, 23);
label('k', 524, 1137, 27, {bold: true}); label('Increased', 630, 1137, 23);
</script>
</body></html>
